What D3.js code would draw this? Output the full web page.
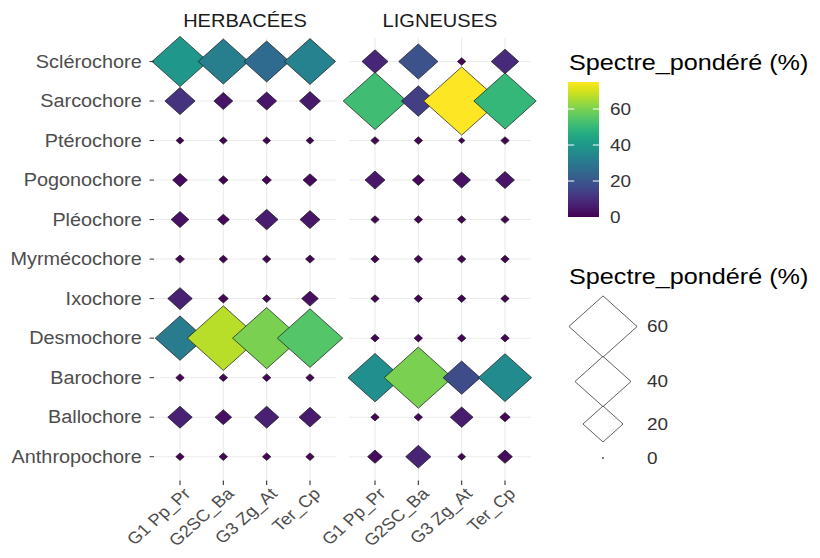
<!DOCTYPE html>
<html>
<head>
<meta charset="utf-8">
<script src="https://cdn.jsdelivr.net/npm/d3@7"></script>
<style>
  html, body { margin: 0; padding: 0; background: #fff; }
  svg { display: block; }
  text { font-family: "Liberation Sans", Arial, sans-serif; }
</style>
</head>
<body>
<div id="chart"></div>
<script>
// Dispersal modes (rows), sites (columns) and life forms (facets)
const modes = ["Sclérochore", "Sarcochore", "Ptérochore", "Pogonochore", "Pléochore",
  "Myrmécochore", "Ixochore", "Desmochore", "Barochore", "Ballochore", "Anthropochore"];
const sites = ["G1 Pp_Pr", "G2SC_Ba", "G3 Zg_At", "Ter_Cp"];
const facets = ["HERBACÉES", "LIGNEUSES"];

// Weighted spectrum (%), one row per mode, one value per site
const herbacees = [
  [40, 32, 26, 33],
  [11, 4, 4.5, 5],
  [0.5, 0.5, 0.5, 0.5],
  [2.3, 0.8, 0.8, 2],
  [3.5, 1.4, 6, 4.5],
  [0.7, 0.6, 0.6, 0.7],
  [7, 0.9, 0.6, 3],
  [31, 67, 60, 55],
  [0.6, 0.6, 0.6, 0.6],
  [7, 3, 7, 5.5],
  [0.6, 0.6, 0.6, 0.6]
];
const ligneuses = [
  [8, 19, 0.6, 9],
  [52, 14, 75, 50],
  [0.6, 0.6, 0.3, 0.6],
  [4.5, 1.4, 3.5, 4],
  [0.6, 0.6, 0.6, 0.6],
  [0.6, 0.6, 0.6, 0.6],
  [0.6, 0.6, 0.6, 0.6],
  [0.6, 0.6, 0.6, 0.6],
  [37, 60, 17, 36],
  [0.6, 0.6, 6, 1],
  [2.3, 7.5, 0.5, 2.3]
];
const legendBreaks = [0, 20, 40, 60];

// The drawing is laid out on a slightly narrower canvas and stretched to 820 wide
const SX = 1.115;
const W = 820, H = 558, WI = W / SX;
const px = v => v / SX;

const svg = d3.select("#chart").append("svg")
  .attr("width", W).attr("height", H)
  .attr("viewBox", `0 0 ${WI} ${H}`)
  .attr("preserveAspectRatio", "none");

const tables = [herbacees, ligneuses];
const all = tables.flat(2);
const vmin = 0, vmax = d3.max(all);

const color = d3.scaleSequential(d3.interpolateViridis).domain([vmin, vmax]);
const size = d3.scaleSqrt().domain([vmin, vmax]).range([0.8, 34.1]);

const y = d3.scalePoint().domain(modes).range([61.5, 456.7]);
const step = y.step();
const panelTop = 61.5 - 0.6 * step, panelBottom = 456.7 + 0.6 * step;

const panels = [
  { name: facets[0], data: herbacees, x: d3.scalePoint().domain(sites).range([px(180), px(310)]) },
  { name: facets[1], data: ligneuses, x: d3.scalePoint().domain(sites).range([px(375), px(505)]) }
];

const diamond = (cx, cy, r) => `M${cx},${cy - r}L${cx + r},${cy}L${cx},${cy + r}L${cx - r},${cy}Z`;

panels.forEach(p => {
  const xs = p.x.step();
  const [a, b] = p.x.range();
  const left = a - 0.6 * xs, right = b + 0.6 * xs;
  const g = svg.append("g");

  // grid
  g.selectAll(".gh").data(modes).join("line")
    .attr("x1", left).attr("x2", right)
    .attr("y1", d => y(d)).attr("y2", d => y(d))
    .attr("stroke", "#ebebeb").attr("stroke-width", 1);
  g.selectAll(".gv").data(sites).join("line")
    .attr("x1", d => p.x(d)).attr("x2", d => p.x(d))
    .attr("y1", panelTop).attr("y2", panelBottom)
    .attr("stroke", "#ebebeb").attr("stroke-width", 1);

  // facet title
  g.append("text")
    .attr("x", (left + right) / 2).attr("y", 21)
    .attr("text-anchor", "middle").attr("dominant-baseline", "central")
    .attr("font-size", 18).attr("fill", "#1a1a1a")
    .text(p.name);

  // x axis ticks and labels
  const xa = g.append("g");
  xa.selectAll("line").data(sites).join("line")
    .attr("x1", d => p.x(d)).attr("x2", d => p.x(d))
    .attr("y1", panelBottom).attr("y2", panelBottom + 4.5)
    .attr("stroke", "#333").attr("stroke-width", 1);
  xa.selectAll("text").data(sites).join("text")
    .attr("transform", d => `translate(${p.x(d) + 2},${panelBottom + 6}) rotate(-45)`)
    .attr("text-anchor", "end").attr("dy", "0.72em")
    .attr("font-size", 16.5).attr("fill", "#4d4d4d")
    .text(d => d);

  // points
  const cells = [];
  p.data.forEach((row, i) => row.forEach((v, j) => cells.push({ mode: modes[i], site: sites[j], v })));
  g.selectAll("path.pt").data(cells).join("path")
    .attr("class", "pt")
    .attr("d", d => diamond(p.x(d.site), y(d.mode), size(d.v)))
    .attr("fill", d => color(d.v))
    .attr("stroke", "#1a1a1a").attr("stroke-width", 0.8).attr("stroke-opacity", 0.85);
});

// y axis (left of first panel)
{
  const left = panels[0].x.range()[0] - 0.6 * panels[0].x.step();
  const ya = svg.append("g");
  ya.selectAll("line").data(modes).join("line")
    .attr("x1", left - 4).attr("x2", left)
    .attr("y1", d => y(d)).attr("y2", d => y(d))
    .attr("stroke", "#333").attr("stroke-width", 1);
  ya.selectAll("text").data(modes).join("text")
    .attr("x", left - 11).attr("y", d => y(d))
    .attr("text-anchor", "end").attr("dominant-baseline", "central")
    .attr("font-size", 17.8).attr("fill", "#4d4d4d")
    .text(d => d);
}

// colour legend
{
  const g = svg.append("g");
  const x0 = px(568), bw = px(31), top = 82, bottom = 217;
  g.append("text").attr("x", px(569)).attr("y", 62)
    .attr("dominant-baseline", "central")
    .attr("font-size", 22.6).attr("fill", "#000").text("Spectre_pondéré (%)");
  const defs = svg.append("defs");
  const grad = defs.append("linearGradient").attr("id", "vir")
    .attr("x1", 0).attr("x2", 0).attr("y1", 1).attr("y2", 0);
  d3.range(0, 1.0001, 0.05).forEach(t => grad.append("stop")
    .attr("offset", t).attr("stop-color", color(vmin + t * (vmax - vmin))));
  g.append("rect").attr("x", x0).attr("y", top).attr("width", bw).attr("height", bottom - top)
    .attr("fill", "url(#vir)");
  const cy = d3.scaleLinear().domain([vmin, vmax]).range([bottom, top]);
  legendBreaks.forEach(b => {
    if (b > vmin) {
      g.append("line").attr("x1", x0).attr("x2", x0 + bw * 0.2).attr("y1", cy(b)).attr("y2", cy(b))
        .attr("stroke", "#fff").attr("stroke-width", 1);
      g.append("line").attr("x1", x0 + bw * 0.8).attr("x2", x0 + bw).attr("y1", cy(b)).attr("y2", cy(b))
        .attr("stroke", "#fff").attr("stroke-width", 1);
    }
    g.append("text").attr("x", px(610)).attr("y", cy(b))
      .attr("dominant-baseline", "central")
      .attr("font-size", 17).attr("fill", "#333").text(b);
  });
}

// size legend
{
  const g = svg.append("g");
  g.append("text").attr("x", px(569)).attr("y", 276)
    .attr("dominant-baseline", "central")
    .attr("font-size", 22.6).attr("fill", "#000").text("Spectre_pondéré (%)");
  const keyY = { 60: 326.5, 40: 381.5, 20: 424, 0: 458 };
  const cx = px(603);
  legendBreaks.forEach(b => {
    g.append("path").attr("d", diamond(cx, keyY[b], size(b)))
      .attr("fill", "none").attr("stroke", "#444").attr("stroke-width", 0.8);
    g.append("text").attr("x", px(647)).attr("y", keyY[b])
      .attr("dominant-baseline", "central")
      .attr("font-size", 17).attr("fill", "#333").text(b);
  });
}
</script>
</body>
</html>
